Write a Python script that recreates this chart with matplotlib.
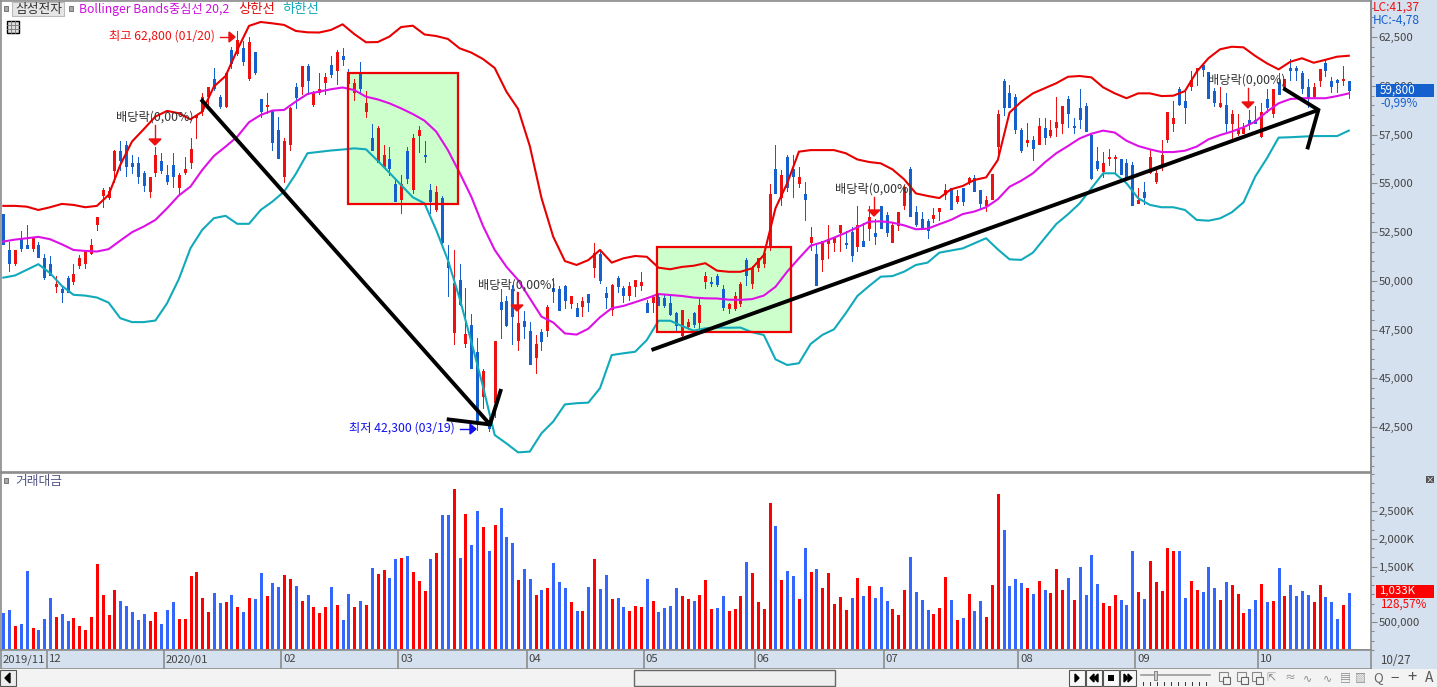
import numpy as np
import matplotlib
matplotlib.use("Agg")
import matplotlib.pyplot as plt
from matplotlib.patches import Rectangle, Polygon
from matplotlib.ticker import MultipleLocator, FuncFormatter

plt.rcParams['font.family'] = ['Noto Sans CJK KR', 'DejaVu Sans']

W, H = 1437, 687

highs = [
 53400,52000,51600,52570,52860,52230,52010,51380,51270,50220,
 49740,50220,50860,51340,51580,52160,53260,54740,54830,56680,
 57190,57190,56450,56330,55620,55340,56880,56540,55940,56540,
 55510,56330,57310,58500,59610,59920,60910,59530,60640,62010,
 62800,62310,62520,61750,59320,59610,58730,58420,57310,58900,
 60130,61020,61120,59750,60640,60670,61530,61840,61920,60840,
 60350,61220,59730,58040,57940,56960,56840,55170,55430,56840,
 57530,57940,57170,54960,54860,54350,51840,51580,50860,49630,
 48300,47070,45480,43030,46910,49560,49220,49780,49430,48450,
 47890,47220,47550,48760,50130,49730,49780,49220,48880,49190,
 49320,51950,51580,49680,49840,50250,49730,49940,50040,50450,
 49020,49270,49270,49270,49270,48420,48500,48020,48420,49050,
 50450,50180,50350,49790,48880,49430,49940,51170,50760,51170,
 51580,54960,56960,55680,56450,56450,55820,55070,52760,51840,
 52040,52860,52250,52860,52550,52760,53840,52960,53840,53170,
 53840,53530,53010,53530,54910,55830,53840,53530,53170,53730,
 53730,54960,54760,54660,54760,55320,55420,54660,54350,55480,
 58760,60350,60040,59580,57830,58090,57420,58350,58330,58240,
 59410,58960,59480,58330,59830,59120,57530,56860,56600,56760,
 56450,56250,56250,56090,54760,55070,56710,55680,57220,58650,
 59220,59940,59730,60760,60910,61170,60710,59890,59940,59630,
 58760,58550,58090,58760,58960,59120,59830,59830,60650,60350,
 61370,61010,60760,60350,60140,60860,61370,60450,60350,61010,
 60240]

body_tops = [
 53400,51600,51600,52130,51840,52180,51820,51150,50860,49840,
 49570,50150,50350,51150,51550,51840,53260,54660,54610,56660,
 56660,56970,56030,56060,55510,55340,56440,56130,55430,55940,
 55430,55720,56760,58500,59410,59920,60330,59440,60640,61840,
 62350,61940,62260,61720,59320,59020,58730,57730,57170,58850,
 59920,61020,61020,59650,59820,60430,61080,61750,61530,60640,
 60160,60640,59130,57320,57840,56450,56250,54960,54960,56650,
 57320,57730,56430,54650,54550,54250,50980,49890,50040,47270,
 47730,46350,45380,42690,46910,48910,48960,49580,47840,47940,
 47430,46760,47360,48640,49610,49580,49730,49220,48610,48960,
 49320,51410,51370,49370,49770,50140,49630,49730,50040,49940,
 48850,49190,49150,49100,48850,48330,48500,47900,48330,48760,
 50250,49940,50250,49580,48810,49220,49840,51070,50660,51150,
 51430,54450,55730,55420,56330,55730,55320,54450,52250,51370,
 52020,52140,52250,52860,51940,52500,52860,52040,53270,52450,
 53840,53370,52860,53530,54810,55730,53530,53170,53070,53370,
 53730,54660,54760,54350,54760,55270,55270,54660,54140,55480,
 58550,60240,59630,59420,57730,57220,57220,57940,57835,57730,
 58140,58960,59320,57900,58860,58960,57490,56140,56040,56350,
 56350,56250,56040,55940,54140,54550,56350,55530,56450,58650,
 58350,59830,59220,60300,60910,61060,60710,59730,59120,59010,
 58550,57730,57835,58250,58250,58650,59320,59830,60190,60350,
 60910,60910,60650,59940,59940,60860,61170,60240,60300,60350,
 60240]

body_bottoms = [
 51900,50900,50900,51670,51700,51670,51240,50180,50320,49740,
 49400,49430,49990,50810,50900,51410,52920,54390,54320,55680,
 56200,55910,55910,55380,54910,54620,55600,55680,55140,55380,
 54800,55580,56080,58380,58730,59480,59870,58970,58970,61150,
 61670,61290,60380,60730,58710,58970,57140,56320,55390,57020,
 59410,59990,60300,59070,59680,60200,60610,60810,61390,60120,
 59700,59870,58720,56710,56110,55890,55770,54110,54210,55270,
 54710,57480,56400,54110,53700,52010,50720,47380,48810,46830,
 45530,42860,44090,42440,43800,48570,47730,48200,46960,47680,
 45730,46090,46910,47480,49490,48500,49020,48840,48200,48710,
 48910,50690,50040,49170,48560,49730,49270,49270,49730,49770,
 48420,48910,48740,48740,48300,47720,47220,47680,47790,47900,
 50010,49900,49840,48670,48620,48600,48880,50300,49870,50720,
 50930,51840,54520,54310,54830,55370,55010,54200,51990,49790,
 51120,51920,51990,52500,51900,51320,51780,51780,52710,52300,
 52710,52500,51990,52860,53890,53320,52910,52710,52610,53220,
 53580,54450,53680,54090,54090,55120,54600,53990,53890,54200,
 56910,58910,58910,57780,56700,57120,56810,57010,57370,57480,
 57890,58090,58600,57870,58300,57680,55270,55780,55630,56300,
 56280,55480,55270,53890,53990,54300,55580,55120,55940,57270,
 58090,59070,58910,59990,60810,60860,59370,59170,58960,58090,
 58090,57580,57580,58080,58090,57420,58910,58600,59580,59950,
 60810,60810,59890,59370,59480,60300,60810,59990,60190,60300,
 59800]

lows = [
 51900,50500,50800,51550,51700,51550,51240,50080,50280,49430,
 48930,49400,49840,50630,50630,51380,52610,53800,54210,55090,
 55680,55380,55510,55030,54620,54320,55380,55550,54970,54830,
 54520,55480,55800,57310,58500,59020,59790,58850,58930,60900,
 61580,61070,60300,60610,58420,58590,56710,56320,55090,56710,
 58850,59580,59580,58970,59580,59580,60430,60090,61070,60120,
 59270,59610,58420,56710,56110,55890,55430,54110,53490,55030,
 54520,56620,56110,53490,53600,51950,49220,46760,48760,46620,
 45530,42350,43460,42300,43000,47070,47680,46760,46450,47070,
 45730,45270,46450,47170,48910,48500,48610,48610,48200,48200,
 48450,50210,49900,48610,48250,49430,48910,49020,49220,49530,
 48420,48420,48740,48670,48250,47480,47130,47510,47650,47510,
 49630,49730,49730,48500,48370,48500,48710,49790,49630,50500,
 50720,51580,54520,53890,54620,54310,54830,53120,51580,49790,
 50500,51170,51530,51530,51680,51020,51530,51780,52090,51890,
 52710,52300,51990,52610,53680,53320,52810,52710,52200,53010,
 53120,54200,53680,53990,53890,54960,54600,53680,53580,54200,
 56540,58500,58910,57580,56600,56910,56190,57010,57010,57360,
 57420,57580,57900,57560,57840,57680,55220,55680,55320,55940,
 55560,55480,55270,53890,53990,53940,55510,55010,55680,57120,
 57680,59010,58090,59780,60040,60500,59370,58960,58910,57680,
 57270,57480,57580,57780,58090,57370,58650,58400,59580,59780,
 60300,60300,59610,58910,59360,59990,60500,59680,59680,60040,
 59370]

# r = rose, b = fell (volume bars); the few doji listed below are drawn blue on the price panel
day_colors = ("bbrbbrbbbr" "bbrrrrrrrr" "bbbbbrrbbb" "rrrrrrbbrb" "rbrbbrbbrr"
              "brbrrrbrbb" "rbrbrrbbrb" "rrrbrbbrbr" "bb"
              "rbrbbbrb" "brbrbbbrbr" "brbbrbbrrr" "brbbbbrrbr" "rrbbrrrbrr"
              "rrbrbbrbrb" "rrrrrbrbrb" "bbrrrbbbbr" "rr"
              "brbrbbrr" "rbbbbrbrbr" "rrbrbbbbrr" "rbbbrbrrrr"
              "rbbrrbbbrb" "rrrbbrbrbr" "bbbbrrbbbr" "b")
doji_blue = [72, 121, 144, 183]

trade_value_k = [
 672,726,438,474,1428,402,366,564,942,600,654,528,582,438,366,600,1554,996,636,1086,
 888,798,690,546,654,528,690,474,726,870,564,564,1338,1410,942,690,1032,852,870,996,
 780,690,942,924,1392,978,1212,1140,1356,1284,1158,888,996,780,672,780,1140,816,546,1014,
 780,888,816,1482,1374,1446,1302,1644,1662,1698,1410,1248,1068,1644,1752,2436,2436,2904,1662,2454,
 1896,2508,
 2220,1788,2256,2562,2040,1932,1266,1464,1284,996,1086,1122,1572,1230,1122,870,708,708,1140,1644,
 1104,1356,924,942,780,708,798,780,1284,888,690,762,798,1122,978,924,888,996,1266,744,
 762,978,708,744,978,1590,1392,870,744,2652,2238,1266,1428,1338,924,1842,1410,1464,1122,1392,
 834,960,726,942,1302,978,1158,942,1140,888,744,636,1086,1680,1050,906,726,654,762,1320,
 906,546,582,1014,708,888,600,1176,2814,2166,1158,1284,1212,1122,1014,1248,1086,1032,1464,1086,
 1302,906,1500,996,1716,1194,852,798,996,906,816,1788,1050,924,1608,1230,1068,1842,1788,1788,
 942,1248,1086,1050,1500,1122,906,1230,1176,1014,672,744,906,1194,870,888,1482,978,1176,978,
 1068,996,870,1176,960,870,564,816,1032]

band_days = list(range(0, 231, 2))
upper_band = [
 53840,53840,53800,53630,53770,53940,53890,53770,53840,54400,55940,57140,57770,58420,58710,
 58590,58280,58670,59960,60500,61840,63070,63270,63200,63120,62810,62740,62730,62860,63150,
 62650,62230,62240,62520,63010,63080,62630,62550,62400,61920,61700,61370,60910,59700,58810,
 56910,54240,52260,51010,50810,51060,51580,50930,51150,51270,51230,50670,50590,50710,50770,
 50900,50520,50460,50460,50640,51320,53720,55000,56620,56700,56700,56700,56540,56220,56090,
 56020,55710,55200,54480,54350,54240,54690,54860,55170,55300,56190,58620,59180,
 59610,59870,60130,60460,60500,60430,59920,59610,59360,59610,59610,59470,59490,59730,60720,
 61410,61870,62000,61970,61530,61150,60840,61230,61410,61180,61330,61490,61540]
middle_band = [
 52010,52110,52180,52250,52130,51870,51580,51530,51500,51620,52060,52490,52780,53120,53720,
 54370,54830,55680,56400,56880,57390,58130,58500,58730,58760,59190,59580,59700,59820,59910,
 59780,59440,59300,59100,58840,58550,58210,57650,56700,55540,54310,52810,51580,50720,50040,
 49100,48160,47860,47300,47240,47540,48130,48590,48710,48900,49100,49320,49270,49220,49140,
 49100,49090,49030,49020,49060,49240,49690,50470,51150,51800,51970,52210,52460,52740,53030,
 53050,52980,52840,52640,52670,52900,53120,53420,53550,53770,54180,54820,55130,
 55510,56060,56540,56910,57300,57540,57700,57600,57180,56910,56740,56600,56600,56670,56880,
 57250,57470,57650,57870,58160,58670,59100,59320,59360,59360,59360,59470,59610]
lower_band = [
 50160,50270,50560,50850,50390,49740,49280,49240,49140,48880,48080,47880,47880,47960,48850,
 50080,51670,52610,53210,53330,52920,52920,53630,54060,54570,55480,56540,56610,56680,56730,
 56790,56740,56150,55540,54910,54280,53970,52600,51060,49100,46880,44570,42090,41660,41200,
 41240,42180,42780,43660,43720,43750,44490,46190,46280,46360,46960,47950,47950,47680,47440,
 47560,47600,47590,47600,47360,47220,45970,45680,45770,46760,47220,47510,48330,49220,49730,
 50210,50240,50470,50810,50930,51440,51550,51660,51920,52180,51610,51100,51070,
 51440,52180,52910,53410,53970,54740,55510,55510,55000,54230,53890,53770,53770,53630,53120,
 53080,53200,53510,54020,55340,56280,57340,57360,57390,57420,57420,57420,57700]

month_starts = [8, 28, 48, 68, 90, 110, 129, 151, 174, 194, 215]
month_labels = ["12", "2020/01", "02", "03", "04", "05", "06", "07", "08", "09", "10"]
price_ticks = [42500, 45000, 47500, 50000, 52500, 55000, 57500, 60000, 62500]
value_ticks = [500, 1500, 2000, 2500]
value_tick_labels = ["500,000", "1,500K", "2,000K", "2,500K"]

# study drawings, as (day index, price)
box_a = (58.9, 77.8, 53950, 60670)
box_b = (111.7, 134.6, 47370, 51750)
trend_down = ([33.8, 83.2], [59300, 42630])
trend_down_head = ([75.8, 83.2, 85.1], [42900, 42630, 44450])
trend_up = ([110.8, 224.8], [46450, 58760])
trend_up_head = ([218.8, 224.8, 222.9], [59870, 58760, 56740])

n = len(highs)
days = np.arange(n)
up = np.array([c == 'r' for c in day_colors])
candle_up = up.copy()
candle_up[doji_blue] = False
tops, bots = np.array(body_tops, float), np.array(body_bottoms, float)
opens = np.where(candle_up, bots, tops)
closes = np.where(candle_up, tops, bots)

C_RED, C_BLUE = '#EE1111', '#1560CC'
V_RED, V_BLUE = '#FF0000', '#3366FF'
PANEL = '#D6E1EF'
GRID = '#8C8C8C'
TXT = '#444444'
PX = 0.72  # one pixel, in points

fig = plt.figure(figsize=(W / 100, H / 100), dpi=100, facecolor=PANEL)

def axes_px(x0, y0, x1, y1, **kw):
    return fig.add_axes([x0 / W, 1 - y1 / H, (x1 - x0) / W, (y1 - y0) / H], **kw)

day_of_px = lambda px: (px - 3.3) / 5.85
price_of_px = lambda py: 62500 - (py - 37) * 51.28

def crisp(coll):
    coll.set_snap(True)
    coll.set_capstyle('butt')
    return coll

# ---- price panel
ax = axes_px(1, 1, 1371, 472, zorder=2)
ax.set_xlim(day_of_px(1), day_of_px(1371))
ax.set_ylim(price_of_px(472), price_of_px(1))
ax.set_facecolor('white')
for s in ('left', 'top', 'bottom'):
    ax.spines[s].set_color(GRID)
    ax.spines[s].set_linewidth(1.2)
ax.spines['right'].set_color(GRID)
ax.spines['right'].set_linewidth(1.4)
ax.xaxis.set_visible(False)
ax.yaxis.tick_right()
ax.set_yticks(price_ticks)
ax.yaxis.set_major_formatter(FuncFormatter(lambda v, _: f"{int(v):,}"))
ax.yaxis.set_minor_locator(MultipleLocator(500))
ax.tick_params(axis='y', which='major', length=4.5, width=0.8, color=GRID,
               labelsize=8.2, labelcolor=TXT, pad=1)
ax.tick_params(axis='y', which='minor', length=2.2, width=0.8, color=GRID)

for x0, x1, p0, p1 in (box_a, box_b):
    ax.add_patch(Rectangle((x0, p0), x1 - x0, p1 - p0, facecolor='#CCFFCC',
                           edgecolor='none', zorder=1))

cols = np.where(candle_up, C_RED, C_BLUE)
crisp(ax.vlines(days, lows, highs, colors=cols, linewidth=1 * PX, zorder=2, antialiased=False))
crisp(ax.vlines(days, bots, np.maximum(tops, bots + 52), colors=cols, linewidth=3 * PX,
                zorder=2, antialiased=False))
ax.plot(band_days, upper_band, color='#E80000', lw=1.5, zorder=3)
ax.plot(band_days, middle_band, color='#DD11E6', lw=1.5, zorder=3)
ax.plot(band_days, lower_band, color='#11AABB', lw=1.5, zorder=3)

for x0, x1, p0, p1 in (box_a, box_b):
    ax.add_patch(Rectangle((x0, p0), x1 - x0, p1 - p0, facecolor='none',
                           edgecolor='#F00000', lw=1.6, zorder=4))
for xs, ys in (trend_down, trend_down_head, trend_up, trend_up_head):
    ax.plot(xs, ys, color='black', lw=2.8, solid_capstyle='butt',
            solid_joinstyle='miter', zorder=5)

# ---- trade value panel
av = axes_px(1, 473, 1371, 650, zorder=2)
av.set_xlim(day_of_px(1), day_of_px(1371))
av.set_ylim(0, 3186)
av.set_facecolor('white')
for s in ('left', 'top', 'bottom', 'right'):
    av.spines[s].set_color(GRID)
    av.spines[s].set_linewidth(1.2)
av.xaxis.set_visible(False)
av.yaxis.tick_right()
av.set_yticks(value_ticks)
av.set_yticklabels(value_tick_labels)
av.yaxis.set_minor_locator(MultipleLocator(500 / 3))
av.tick_params(axis='y', which='major', length=4.5, width=0.8, color=GRID,
               labelsize=8.2, labelcolor=TXT, pad=1)
av.tick_params(axis='y', which='minor', length=2.2, width=0.8, color=GRID)
crisp(av.vlines(days, 0, trade_value_k, colors=np.where(up, V_RED, V_BLUE),
                linewidth=3 * PX, antialiased=False))

# ---- date strip
ad = axes_px(1, 650, 1371, 669, zorder=2)
ad.set_xlim(day_of_px(1), day_of_px(1371))
ad.set_ylim(1, 0)
ad.set_facecolor(PANEL)
ad.set_xticks([])
ad.set_yticks([])
for s in ad.spines.values():
    s.set_color(GRID)
    s.set_linewidth(1.2)
ad.vlines(np.array(month_starts) - 0.5, 0, 1, color=GRID, lw=1.2)
ad.text(day_of_px(2.5), 0.5, "2019/11", fontsize=8.2, color=TXT, va='center')
for d, lab in zip(month_starts, month_labels):
    ad.text(d - 0.2, 0.5, lab, fontsize=8.2, color=TXT, va='center')

# ---- overlay in pixel coordinates for window furniture and notes
ov = axes_px(0, 0, W, H, zorder=5)
ov.set_xlim(0, W)
ov.set_ylim(H, 0)
ov.axis('off')
ov.patch.set_alpha(0)

def box(x, y, w, h, fc, ec='none', lw=1.0, z=2):
    ov.add_patch(Rectangle((x, y), w, h, facecolor=fc, edgecolor=ec, lw=lw, zorder=z))

def label(x, y, s, color=TXT, size=8.8, ha='left', z=6):
    ov.text(x, y, s, color=color, fontsize=size, ha=ha, va='center', zorder=z)

def arrow_h(x0, x1, y, color):
    ov.plot([x0, x1], [y, y], color=color, lw=1.0)
    ov.add_patch(Polygon([[x1 + 5, y], [x1 - 1, y - 5], [x1 - 1, y + 5]], color=color))

def arrow_d(x, y0, y1, color='#EE1111'):
    ov.plot([x, x], [y0, y1], color=color, lw=1.0)
    ov.add_patch(Polygon([[x - 6, y1], [x + 6, y1], [x, y1 + 6]], color=color))

# header
box(4, 6, 4, 5, '#A8A8A8', '#777777', 0.7)
box(12, 2, 52, 14, '#E6E6E6', '#BBBBBB', 0.8)
label(15, 9, "삼성전자", '#333333', 9.2)
box(69, 6, 4, 5, '#A8A8A8', '#777777', 0.7)
label(79, 9, "Bollinger Bands중심선 20,2", '#CC11DD', 8.8)
label(238, 9, "상한선", '#DD1111', 9.6)
label(282, 9, "하한선", '#11AABB', 9.6)
box(7, 21, 12, 12, '#DDDDDD', 'black', 1.0)
for gx in (11, 15):
    ov.plot([gx, gx], [21, 33], color='#777777', lw=0.6)
for gy in (25, 29):
    ov.plot([7, 19], [gy, gy], color='#777777', lw=0.6)

# notes
label(109, 36, "최고 62,800 (01/20)", '#EE1111', 8.8)
arrow_h(220, 230, 37, '#EE1111')
label(349, 428, "최저 42,300 (03/19)", '#1111EE', 8.8)
arrow_h(460, 471, 429, '#1111EE')
for tx, ty, ax_x, a0, a1 in ((116, 117, 155, 125, 139), (478, 285, 517, 292, 305),
                             (835, 189, 874, 197, 210), (1208, 80, 1248, 88, 102)):
    label(tx, ty, "배당락(0,00%)", '#333333', 8.8)
    arrow_d(ax_x, a0, a1)

# right side read-outs
label(1373, 7, "LC:41,37", '#EE1111', 8.6)
label(1373, 20, "HC:-4,78", C_BLUE, 8.6)
box(1376, 84, 58, 13, C_BLUE)
label(1380, 90, "59,800", 'white', 8.4)
label(1380, 103, "-0,99%", C_BLUE, 8.4)
box(1376, 585, 58, 13, '#FF0000')
label(1380, 591, "1,033K", 'white', 8.2)
label(1380, 604, "128,57%", '#FF0000', 8.4)
box(1426, 476, 8, 7, '#555555')
label(1430, 479.5, "×", 'white', 6, ha='center')
label(1380, 660, "10/27", TXT, 8.4)

# labelled volume panel
box(4, 478, 4, 5, '#A8A8A8', '#777777', 0.7)
label(15, 481, "거래대금", '#555588', 9.2)

# bottom strip
box(0, 669, W, 18, '#F3F3F3', z=1)
box(0, 670, 16, 16, '#EEEEEE', '#555555', 0.8)
ov.add_patch(Polygon([[5, 678], [10, 673], [10, 683]], color='black', zorder=3))
box(634, 670, 201, 16, '#EFEFEF', '#666666', 1.0)
for bx in (1069, 1086, 1103, 1120):
    box(bx, 670, 16, 16, '#F8F8F8', '#555555', 0.8)
ov.add_patch(Polygon([[1075, 674], [1075, 682], [1079, 678]], color='black', zorder=3))
ov.add_patch(Polygon([[1094, 674], [1094, 682], [1090, 678]], color='black', zorder=3))
ov.add_patch(Polygon([[1098, 674], [1098, 682], [1094, 678]], color='black', zorder=3))
box(1108, 675, 6, 6, 'black', z=3)
ov.add_patch(Polygon([[1124, 674], [1124, 682], [1128, 678]], color='black', zorder=3))
ov.add_patch(Polygon([[1128, 674], [1128, 682], [1132, 678]], color='black', zorder=3))
ov.plot([1141, 1210], [675, 675], color='#999999', lw=1.2)
box(1154, 671, 3, 9, '#CCCCCC', '#777777', 0.6)
for tx in range(1143, 1212, 7):
    ov.plot([tx, tx], [682, 685], color='#333333', lw=0.7)
for ix in (1219, 1237, 1252):
    box(ix, 672, 9, 9, '#F3F3F3', '#888888', 0.8)
    box(ix + 4, 677, 7, 7, '#F3F3F3', '#666666', 0.8)
for ix, sym in ((1271, "⇱"), (1290, "≈"), (1308, "∿"), (1327, "∿"), (1345, "▤"), (1360, "▧")):
    label(ix, 678, sym, '#888888', 8, ha='center')
label(1378, 678, "Q", '#666666', 9.5, ha='center')
label(1395, 678, "−", '#555555', 11, ha='center')
label(1412, 678, "+", '#555555', 12, ha='center')
label(1429, 678, "A", '#555555', 10, ha='center')

fig.savefig("out.png", dpi=100, facecolor=fig.get_facecolor())
